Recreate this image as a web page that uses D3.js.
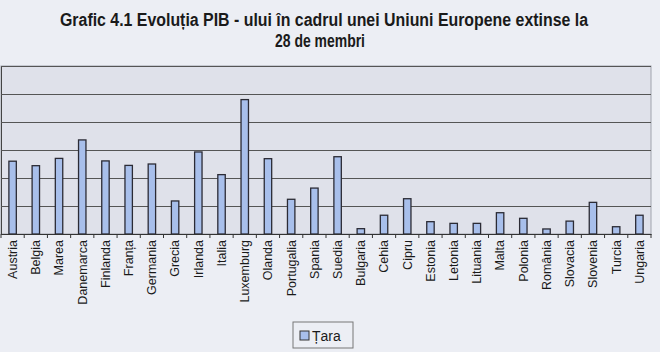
<!DOCTYPE html>
<html>
<head>
<meta charset="utf-8">
<script src="https://cdn.jsdelivr.net/npm/d3@7"></script>
<style>
  body { margin: 0; background: #eceef4; }
  svg { display: block; }
</style>
</head>
<body>
<script>
const width = 660;
const height = 352;
const margins = { top: 66, left: 1, bottom: 118, right: 9 };

const tari = ['Austria', 'Belgia', 'Marea', 'Danemarca', 'Finlanda', 'Franța', 'Germania',
  'Grecia', 'Irlanda', 'Italia', 'Luxemburg', 'Olanda', 'Portugalia', 'Spania', 'Suedia',
  'Bulgaria', 'Cehia', 'Cipru', 'Estonia', 'Letonia', 'Lituania', 'Malta', 'Polonia',
  'România', 'Slovacia', 'Slovenia', 'Turcia', 'Ungaria'];
const valori = [2.6, 2.44, 2.7, 3.36, 2.61, 2.45, 2.5,
  1.18, 2.93, 2.12, 4.8, 2.69, 1.24, 1.64, 2.76,
  0.19, 0.67, 1.26, 0.44, 0.38, 0.38, 0.76, 0.56,
  0.18, 0.46, 1.13, 0.26, 0.67];
const yTicks = [0, 1, 2, 3, 4, 5, 6];
const serie = 'Țara';
const titlu = ['Grafic 4.1  Evoluția PIB - ului în cadrul unei Uniuni Europene extinse la', '28 de membri'];
const titluLat = [528, 90];

const draw_width = width - margins.left - margins.right;
const draw_height = height - margins.top - margins.bottom;

const svg = d3.select('body')
  .append('svg')
  .attr('width', width)
  .attr('height', height);

// title (narrow bold look, squeezed with textLength)
svg.append('g')
  .attr('class', 'title')
  .selectAll('text')
  .data(titlu)
  .enter()
  .append('text')
  .attr('x', function(d, i){ return i == 0 ? 60 : 275; })
  .attr('y', function(d, i){ return 26 + i * 21; })
  .attr('textLength', function(d, i){ return titluLat[i]; })
  .attr('lengthAdjust', 'spacingAndGlyphs')
  .style('font-family', '"Liberation Sans", Arial, sans-serif')
  .style('font-weight', 'bold')
  .style('font-size', '18px')
  .style('fill', '#1a1a1a')
  .text(function(d){ return d; });

const xScale = d3.scaleBand()
  .domain(tari)
  .range([0, draw_width])
  .paddingInner(0.68)
  .paddingOuter(0.34);
const yScale = d3.scaleLinear()
  .domain([0, 6])
  .range([draw_height, 0]);

const chart_g = svg.append('g')
  .attr('transform', 'translate(' + margins.left + ',' + margins.top + ')');

chart_g.append('rect')
  .attr('width', draw_width)
  .attr('height', draw_height)
  .attr('fill', '#dfe1ea')
  .attr('stroke', '#a0a3ad')
  .attr('stroke-width', 1);

// grid lines
const yAxis = d3.axisLeft(yScale)
  .tickValues(yTicks)
  .tickSize(-draw_width)
  .tickFormat('');
chart_g.append('g')
  .attr('class', 'y_axis')
  .call(yAxis)
  .call(function(g){
    g.select('.domain').attr('stroke', '#444');
    g.selectAll('.tick line').attr('stroke', '#555').attr('stroke-width', 1.1);
  });

// bars
chart_g.selectAll('rect.bar')
  .data(valori)
  .enter()
  .append('rect')
  .attr('class', 'bar')
  .attr('x', function(d, i){ return xScale(tari[i]); })
  .attr('y', function(d){ return yScale(d); })
  .attr('width', xScale.bandwidth())
  .attr('height', function(d){ return draw_height - yScale(d); })
  .attr('fill', '#a8bfeb')
  .attr('stroke', '#2b2b35')
  .attr('stroke-width', 1.3);

// x axis
const step = xScale.step();
const xAxis = d3.axisBottom(xScale).tickSize(0).tickPadding(6);
const x_g = chart_g.append('g')
  .attr('class', 'x_axis')
  .attr('transform', 'translate(0,' + draw_height + ')')
  .call(xAxis);
x_g.select('.domain').attr('stroke', '#333').attr('stroke-width', 1.2);
x_g.selectAll('text')
  .attr('transform', 'rotate(-90)')
  .attr('text-anchor', 'end')
  .attr('dy', '0.35em')
  .attr('x', -6)
  .attr('y', 0)
  .style('font-family', '"Liberation Sans", Arial, sans-serif')
  .style('font-size', '12.5px')
  .style('fill', '#1a1a1a');
x_g.selectAll('line.sep')
  .data(d3.range(tari.length + 1))
  .enter()
  .append('line')
  .attr('class', 'sep')
  .attr('x1', function(d){ return d * step; })
  .attr('x2', function(d){ return d * step; })
  .attr('y1', 0)
  .attr('y2', 4)
  .attr('stroke', '#333');

// legend
const legend = svg.append('g')
  .attr('transform', 'translate(293,322)');
legend.append('rect')
  .attr('width', 60)
  .attr('height', 26)
  .attr('fill', '#eceef4')
  .attr('stroke', '#777');
legend.append('rect')
  .attr('x', 7)
  .attr('y', 9)
  .attr('width', 9)
  .attr('height', 9)
  .attr('fill', '#a8bfeb')
  .attr('stroke', '#333');
legend.append('text')
  .attr('x', 19)
  .attr('y', 19)
  .style('font-family', '"Liberation Sans", Arial, sans-serif')
  .style('font-size', '14px')
  .style('fill', '#1a1a1a')
  .text(serie);
</script>
</body>
</html>
